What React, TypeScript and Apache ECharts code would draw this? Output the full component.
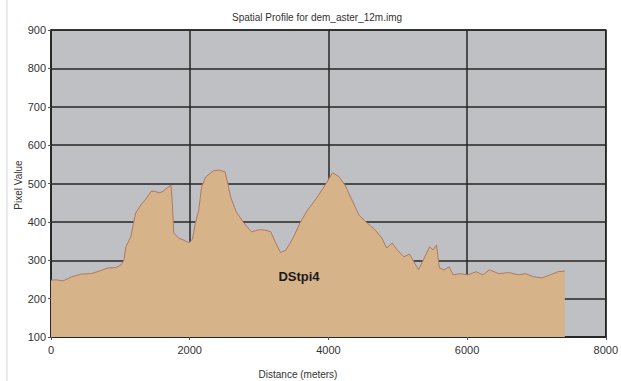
import React, { useEffect, useRef } from "react";
import * as echarts from "echarts";

// Elevation profile along the transect
const distances = [
  0, 80, 170, 300, 440, 580, 700, 820, 940, 1010, 1050, 1080, 1150, 1220, 1300,
  1370, 1440, 1490, 1560, 1600, 1700, 1730, 1750, 1770, 1840, 1920, 1990, 2040,
  2080, 2130, 2170, 2230, 2340, 2430, 2510, 2550, 2590, 2670, 2770, 2890, 3010,
  3100, 3170, 3240, 3310, 3390, 3490, 3590, 3700, 3810, 3940, 4060, 4150, 4240,
  4340, 4440, 4560, 4670, 4770, 4840, 4920, 4990, 5090, 5170, 5300, 5370, 5460,
  5510, 5560, 5600, 5670, 5740, 5800, 5900, 6010, 6130, 6230, 6320, 6460, 6600,
  6740, 6840, 6960, 7080, 7200, 7310, 7410,
];
const pixelValues = [
  248, 249, 246, 257, 264, 265, 272, 280, 281, 288, 300, 335, 361, 423, 445,
  460, 479, 480, 476, 478, 492, 496, 450, 371, 358, 352, 345, 355,
  395, 430, 490, 517, 533, 535, 530, 500, 465, 427, 400, 374, 380,
  378, 374, 345, 320, 327, 358, 397, 431, 457, 492, 528, 518, 496,
  457, 418, 397, 380, 358, 332, 345, 327, 309, 316, 275, 301, 335,
  327, 340, 280, 275, 283, 262, 265, 262, 270, 262, 275, 265, 268,
  262, 265, 257, 254, 262, 270, 272,
];

const titleText = "Spatial Profile for dem_aster_12m.img";
const xAxisTitle = "Distance (meters)";
const yAxisTitle = "Pixel Value";
const profileLabel = "DStpi4";

export default function App() {
  const ref = useRef<HTMLDivElement>(null);

  useEffect(() => {
    if (!ref.current) return;
    const chart = echarts.init(ref.current, undefined, { renderer: "svg" });
    const font = "'Liberation Sans', Arial, sans-serif";
    chart.setOption({
      animation: false,
      backgroundColor: "#ffffff",
      textStyle: { fontFamily: font },
      grid: {
        left: 51,
        right: 10,
        top: 30,
        bottom: 44,
        show: true,
        backgroundColor: "#bfc0c4",
        borderColor: "#262626",
        borderWidth: 1.5,
      },
      xAxis: {
        type: "value",
        min: 0,
        max: 8000,
        interval: 2000,
        axisLine: { show: true, lineStyle: { color: "#262626", width: 1.5 } },
        axisTick: { show: true, length: 3, lineStyle: { color: "#555" } },
        axisLabel: {
          color: "#333",
          fontSize: 11,
          margin: 7,
          formatter: (v: number) => String(v),
        },
        splitLine: { show: true, lineStyle: { color: "#262626", width: 1.5 } },
      },
      yAxis: {
        type: "value",
        min: 100,
        max: 900,
        interval: 100,
        axisLine: { show: true, lineStyle: { color: "#262626", width: 1.5 } },
        axisTick: { show: true, length: 3, lineStyle: { color: "#555" } },
        axisLabel: {
          color: "#333",
          fontSize: 11,
          margin: 5,
          formatter: (v: number) => String(v),
        },
        splitLine: { show: true, lineStyle: { color: "#262626", width: 1.5 } },
      },
      series: [
        {
          type: "line",
          data: distances.map((d, i) => [d, pixelValues[i]]),
          symbol: "none",
          lineStyle: { color: "#b27860", width: 1 },
          areaStyle: { color: "#d7b38a", opacity: 1 },
          z: 3,
        },
      ],
      graphic: [
        {
          type: "line",
          shape: { x1: 7, y1: 0, x2: 7, y2: 381 },
          style: { stroke: "#d8d8d8", lineWidth: 1 },
        },
        {
          type: "text",
          x: 317,
          y: 17,
          style: {
            text: titleText,
            fill: "#333",
            fontSize: 10,
            fontFamily: font,
            align: "center",
            verticalAlign: "middle",
          },
        },
        {
          type: "text",
          x: 298,
          y: 374,
          style: {
            text: xAxisTitle,
            fill: "#333",
            fontSize: 10,
            fontFamily: font,
            align: "center",
            verticalAlign: "middle",
          },
        },
        {
          type: "text",
          x: 18,
          y: 185,
          rotation: Math.PI / 2,
          style: {
            text: yAxisTitle,
            fill: "#333",
            fontSize: 10,
            fontFamily: font,
            align: "center",
            verticalAlign: "middle",
          },
        },
        {
          type: "text",
          x: 299,
          y: 276,
          z: 10,
          style: {
            text: profileLabel,
            fill: "#1a1a1a",
            fontSize: 13,
            fontWeight: "bold",
            fontFamily: font,
            align: "center",
            verticalAlign: "middle",
          },
        },
      ],
    });
    return () => chart.dispose();
  }, []);

  return (
    <div
      ref={ref}
      style={{ position: "fixed", left: 0, top: 0, width: 621, height: 381 }}
    />
  );
}
